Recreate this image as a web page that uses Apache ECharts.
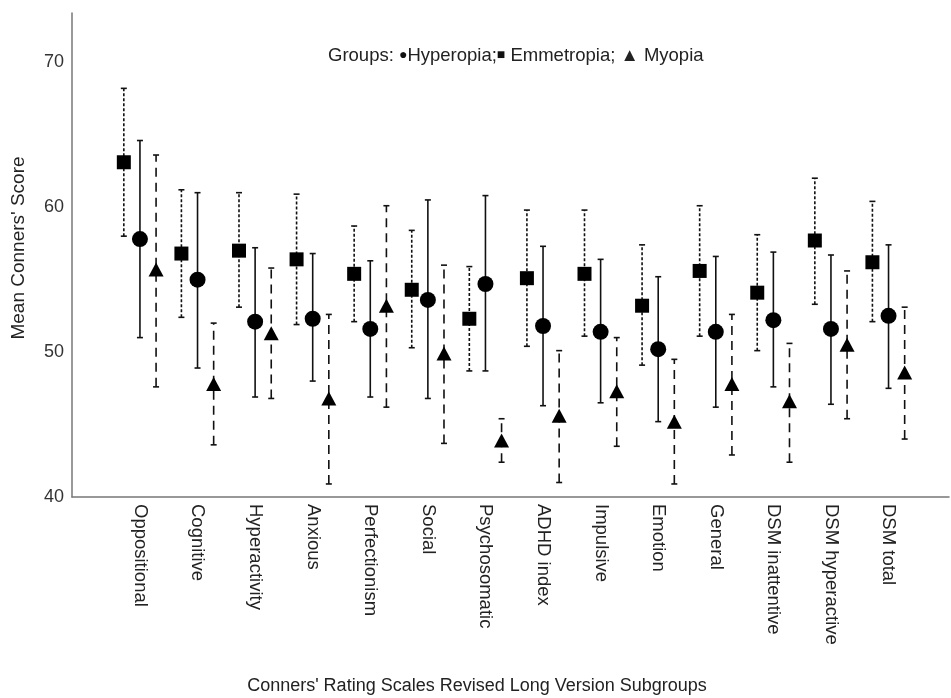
<!DOCTYPE html>
<html>
<head>
<meta charset="utf-8">
<script src="https://cdn.jsdelivr.net/npm/echarts@6/dist/echarts.min.js"></script>
<style>
  html, body { margin: 0; padding: 0; background: #fff; }
  #main { width: 951px; height: 698px; }
</style>
</head>
<body>
<div id="main"></div>
<script>
var categories = ['Oppositional', 'Cognitive', 'Hyperactivity', 'Anxious', 'Perfectionism', 'Social',
  'Psychosomatic', 'ADHD index', 'Impulsive', 'Emotion', 'General', 'DSM inattentive', 'DSM hyperactive', 'DSM total'];

// Hyperopia (circle, solid bars)
var hyperMean = [57.8, 55.0, 52.1, 52.3, 51.6, 53.6, 54.7, 51.8, 51.4, 50.2, 51.4, 52.2, 51.6, 52.5];
var hyperLow  = [51.0, 48.9, 46.9, 48.0, 46.9, 46.8, 48.7, 46.3, 46.5, 45.2, 46.2, 47.6, 46.4, 47.5];
var hyperHigh = [64.6, 61.0, 57.2, 56.8, 56.3, 60.5, 60.8, 57.3, 56.4, 55.2, 56.6, 56.9, 56.7, 57.4];

// Emmetropia (square, short-dash bars)
var emmMean = [63.1, 56.8, 57.0, 56.4, 55.4, 54.3, 52.3, 55.1, 55.4, 53.2, 55.6, 54.1, 57.7, 56.2];
var emmLow  = [58.0, 52.4, 53.1, 51.9, 52.1, 50.3, 48.7, 50.4, 51.1, 49.1, 51.1, 50.1, 53.3, 52.1];
var emmHigh = [68.2, 61.2, 61.0, 60.9, 58.7, 58.4, 55.9, 59.8, 59.8, 57.4, 60.1, 58.1, 62.0, 60.4];

// Myopia (triangle, long-dash bars)
var myoMean = [55.7, 47.8, 51.3, 46.8, 53.2, 49.9, 43.9, 45.6, 47.3, 45.2, 47.8, 46.6, 50.5, 48.6];
var myoLow  = [47.6, 43.6, 46.8, 40.9, 46.2, 43.7, 42.4, 41.0, 43.5, 40.9, 42.9, 42.4, 45.4, 44.0];
var myoHigh = [63.6, 52.0, 55.8, 52.6, 60.1, 56.0, 45.4, 50.1, 51.0, 49.5, 52.6, 50.6, 55.6, 53.1];

var yTicks = [40, 50, 60, 70];

var font = 'Liberation Sans, Arial, sans-serif';
var ink = '#111';

function points(offset, mean) {
  return mean.map(function (v, i) { return [i + offset, v]; });
}
function ranges(offset, low, high) {
  return low.map(function (v, i) { return [i + offset, v, high[i]]; });
}

function errorBar(dash) {
  return function (params, api) {
    var x = api.value(0);
    var lo = api.coord([x, api.value(1)]);
    var hi = api.coord([x, api.value(2)]);
    var c = 3;
    return {
      type: 'group',
      children: [
        { type: 'line', shape: { x1: lo[0], y1: lo[1], x2: hi[0], y2: hi[1] },
          style: { stroke: ink, lineWidth: 1.6, lineDash: dash } },
        { type: 'line', shape: { x1: hi[0] - c, y1: hi[1], x2: hi[0] + c, y2: hi[1] },
          style: { stroke: ink, lineWidth: 1.6 } },
        { type: 'line', shape: { x1: lo[0] - c, y1: lo[1], x2: lo[0] + c, y2: lo[1] },
          style: { stroke: ink, lineWidth: 1.6 } }
      ]
    };
  };
}

var off = 0.28;

var option = {
  animation: false,
  backgroundColor: '#fff',
  grid: { left: 72, right: 2, top: 13, bottom: 201 },
  xAxis: {
    type: 'value',
    min: -1.18,
    max: 14.05,
    axisLine: { onZero: false, lineStyle: { color: '#777', width: 1.5 } },
    axisTick: { show: false },
    splitLine: { show: false },
    axisLabel: {
      customValues: categories.map(function (c, i) { return i; }),
      rotate: -90,
      margin: 7,
      fontFamily: font,
      fontSize: 18.5,
      color: '#222',
      formatter: function (v) { return categories[Math.round(v)]; }
    }
  },
  yAxis: {
    type: 'value',
    min: 40,
    max: 73.4,
    interval: 10,
    name: "Mean Conners' Score",
    nameLocation: 'middle',
    nameGap: 44,
    nameTextStyle: { fontFamily: font, fontSize: 19, color: '#222', padding: [0, 0, 0, 14] },
    axisLine: { show: true, onZero: false, lineStyle: { color: '#777', width: 1.5 } },
    axisTick: { show: false },
    splitLine: { show: false },
    axisLabel: {
      showMaxLabel: false,
      margin: 8,
      fontFamily: font,
      fontSize: 18,
      color: '#333',
      formatter: function (v) { return yTicks.indexOf(v) >= 0 ? String(v) : ''; }
    }
  },
  graphic: [{
    type: 'text',
    left: 328,
    top: 46,
    style: {
      text: 'Groups: {s|\u25CF}Hyperopia;{s|\u25A0} Emmetropia; \u25B2 Myopia',
      font: '18.5px ' + font,
      fill: '#222',
      rich: { s: { fontSize: 14, fontFamily: font, fill: '#111' } }
    }
  }, {
    type: 'text',
    x: 477,
    y: 686,
    style: {
      text: "Conners' Rating Scales Revised Long Version Subgroups",
      font: '18px ' + font,
      fill: '#222',
      textAlign: 'center',
      textVerticalAlign: 'middle'
    }
  }],
  series: [
    { type: 'custom', renderItem: errorBar([3, 2]), encode: { x: 0, y: [1, 2] },
      data: ranges(-off, emmLow, emmHigh), z: 2 },
    { type: 'custom', renderItem: errorBar(null), encode: { x: 0, y: [1, 2] },
      data: ranges(0, hyperLow, hyperHigh), z: 2 },
    { type: 'custom', renderItem: errorBar([9, 6]), encode: { x: 0, y: [1, 2] },
      data: ranges(off, myoLow, myoHigh), z: 2 },
    { name: 'Emmetropia', type: 'scatter', symbol: 'rect', symbolSize: 14, z: 3,
      itemStyle: { color: '#000', opacity: 1 }, data: points(-off, emmMean) },
    { name: 'Hyperopia', type: 'scatter', symbol: 'circle', symbolSize: 16, z: 3,
      itemStyle: { color: '#000', opacity: 1 }, data: points(0, hyperMean) },
    { name: 'Myopia', type: 'scatter', symbol: 'triangle', symbolSize: [15, 14], z: 3,
      itemStyle: { color: '#000', opacity: 1 }, data: points(off, myoMean) }
  ]
};

var chart = echarts.init(document.getElementById('main'));
chart.setOption(option);
</script>
</body>
</html>
